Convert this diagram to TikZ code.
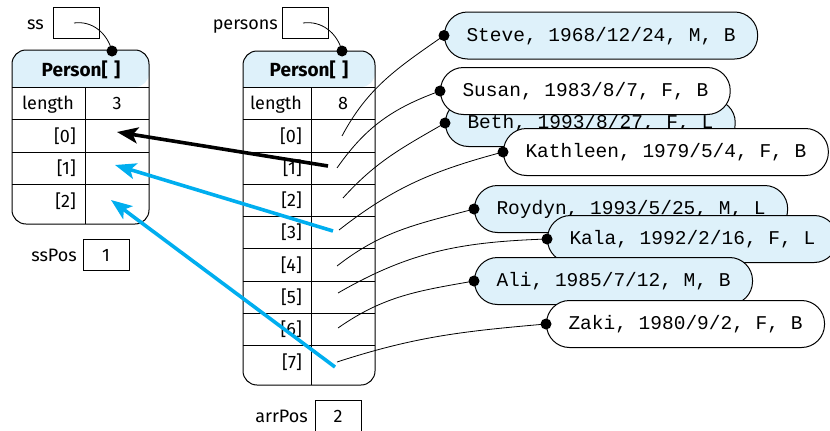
\documentclass[tikz,border=0pt]{standalone}
\usepackage{fontspec}
\setmainfont{Fira Sans}
\setmonofont{Liberation Mono}
\usetikzlibrary{arrows.meta}
\definecolor{cellblue}{RGB}{222,241,250}
\definecolor{ptrblue}{RGB}{0,174,239}
\tikzset{
  frame/.style={line width=1pt},
  lbl/.style={font=\fontsize{18}{20}\selectfont, inner sep=0pt, text height=12pt, text depth=4pt, yshift=-2.5pt},
  hdr/.style={font=\bfseries\fontsize{19}{21}\selectfont, inner sep=0pt},
  varbox/.style={draw, line width=1pt, minimum width=46pt, minimum height=31pt, inner sep=0pt},
  pill/.style={draw, line width=1pt, rounded corners=23pt, minimum height=47pt,
    inner xsep=22pt, inner ysep=0pt, text height=13pt, text depth=2pt,
    font=\ttfamily\fontsize{19.5}{20}\selectfont, anchor=west},
  bluepill/.style={pill, fill=cellblue},
  whitepill/.style={pill, fill=white},
  link/.style={line width=0.8pt},
  dot/.style={fill=black},
  movearrow/.style={line width=3.6pt, -{Stealth[length=21pt, width=16pt, inset=5pt]}},
}
\begin{document}
\begin{tikzpicture}[x=1pt,y=-1pt]
\useasboundingbox (0,0) rectangle (830,431);

% ---- array referenced by ss ----
\fill[cellblue] (12,87) [rounded corners=14pt] |- (80,50) -| (149,87) [sharp corners] -- cycle;
\draw[frame, rounded corners=14pt] (12,50) rectangle (149,224);
\foreach \y in {87,119,152,184} \draw[frame] (12,\y) -- (149,\y);
\draw[frame] (85,87) -- (85,224);
\node[hdr] (sshdr) at (81,70) {Person[\,\,]};
\node[lbl] (sslen) at (48,103) {length};
\node[lbl] (sslenv) at (117,103) {3};
\node[lbl, anchor=east] (ssr0) at (76,135.5) {[0]};
\node[lbl, anchor=east] (ssr1) at (76,168) {[1]};
\node[lbl, anchor=east] (ssr2) at (76,201) {[2]};

% ---- array referenced by persons ----
\fill[cellblue] (243,87) [rounded corners=14pt] |- (300,51) -| (375,87) [sharp corners] -- cycle;
\draw[frame, rounded corners=14pt] (243,51) rectangle (375,385);
\foreach \y in {87,119,152,184,216,248,281,313,345} \draw[frame] (243,\y) -- (375,\y);
\draw[frame] (311,87) -- (311,385);
\node[hdr] (phdr) at (309,70) {Person[\,\,]};
\node[lbl] (plen) at (276,103) {length};
\node[lbl] (plenv) at (343,103) {8};
\foreach \i/\y in {0/135.5,1/168,2/200,3/232,4/264.5,5/297,6/329,7/362}
  \node[lbl, anchor=east] (pr\i) at (302,\y) {[\i]};

% ---- variables ----
\node[varbox] (ssbox) at (76,23) {};
\node[lbl, anchor=east] (sslbl) at (44,23) {ss};
\node[varbox] (pbox) at (305,22.5) {};
\node[lbl, anchor=east] (plbl) at (278,22.5) {persons};
\node[varbox] (sspbox) at (106,255) {};
\node[lbl] (sspval) at (106,255) {1};
\node[lbl, anchor=east] (ssplbl) at (77,255) {ssPos};
\node[varbox] (apbox) at (338,415.5) {};
\node[lbl] (apval) at (338,415.5) {2};
\node[lbl, anchor=east] (aplbl) at (308,415.5) {arrPos};

% reference arrows from the variables to the arrays
\coordinate (ssfrom) at (74,23);
\coordinate (sstop) at (112,51);
\coordinate (pfrom) at (303,23);
\coordinate (ptop) at (342,51);
\draw[link] (ssfrom) to[out=8, in=105] (sstop);
\draw[link] (pfrom) to[out=8, in=105] (ptop);
\fill[dot] (sstop) circle (5.5pt);
\fill[dot] (ptop) circle (5.5pt);

% ---- Person objects ----
\node[bluepill] (steve) at (444,35.5) {Steve, 1968/12/24, M, B};
\node[bluepill] (beth) at (445,123) {Beth, 1993/8/27, F, L};
\node[whitepill] (susan) at (440,91) {Susan, 1983/8/7, F, B};
\node[whitepill] (kathleen) at (503,152) {Kathleen, 1979/5/4, F, B};
\node[bluepill] (roydyn) at (474,209) {Roydyn, 1993/5/25, M, L};
\node[bluepill] (kala) at (547,239) {Kala, 1992/2/16, F, L};
\node[bluepill] (ali) at (474,281) {Ali, 1985/7/12, M, B};
\node[whitepill] (zaki) at (546,324) {Zaki, 1980/9/2, F, B};

% element references
\coordinate (pc0) at (342,136);
\coordinate (pc1) at (337,168);
\coordinate (pc2) at (343,198);
\coordinate (pc3) at (339,230);
\coordinate (pc4) at (337,266);
\coordinate (pc5) at (338,293);
\coordinate (pc6) at (338,328);
\coordinate (pc7) at (337,362);
\draw[link] (pc0) to[out=62, in=215] (steve.west);
\draw[link] (pc1) to[out=55, in=200] (susan.west);
\draw[link] (pc2) to[out=48, in=210] (beth.west);
\draw[link] (pc3) to[out=38, in=195] (kathleen.west);
\draw[link] (pc4) to[out=38, in=195] (roydyn.west);
\draw[link] (pc5) to[out=30, in=182] (kala.west);
\draw[link] (pc6) to[out=35, in=190] (ali.west);
\draw[link] (pc7) to[out=18, in=185] (zaki.west);
\foreach \n in {steve,susan,beth,kathleen,roydyn,kala,ali,zaki}
  \fill[dot] (\n.west) circle (5.5pt);

% ---- copied references ----
\coordinate (from1) at (328,166);
\coordinate (to0) at (117,132);
\coordinate (from3) at (333,231);
\coordinate (to1) at (115,165);
\coordinate (from7) at (335,367);
\coordinate (to2) at (111,200);
\draw[movearrow, black] (from1) -- (to0);
\draw[movearrow, ptrblue] (from3) -- (to1);
\draw[movearrow, ptrblue] (from7) -- (to2);
\end{tikzpicture}
\end{document}
